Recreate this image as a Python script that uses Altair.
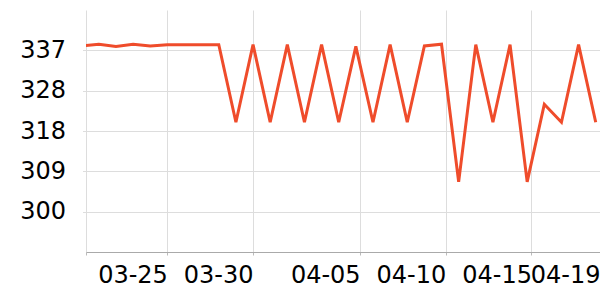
import altair as alt
import pandas as pd

dates = pd.date_range("2024-03-20", "2024-04-19", freq="D").strftime("%Y-%m-%dT00:00:00Z").tolist()
values = [337.8, 338.2, 337.7, 338.2, 337.8, 338.1, 338.1, 338.1, 338.1, 320.4,
          338.1, 320.4, 338.1, 320.4, 338.1, 320.4, 337.7, 320.4, 338.1, 320.4,
          337.8, 338.2, 306.8, 338.1, 320.4, 338.1, 306.8, 324.5, 320.4, 338.1,
          320.4]

x_ticks = ["2024-03-20T06:00:00Z", "2024-03-25T00:00:00Z", "2024-03-30T00:00:00Z",
           "2024-04-05T06:00:00Z", "2024-04-10T06:00:00Z", "2024-04-15T06:00:00Z",
           "2024-04-19T06:00:00Z"]
x_domain = ["2024-03-20T06:00:00Z", "2024-04-19T06:00:00Z"]
y_ticks = [300, 309.2, 318.4, 327.6, 336.8]
y_domain = [290.8, 346.0]

df = pd.DataFrame({"date": dates, "value": values})

def dt(s):
    ts = pd.Timestamp(s)
    return alt.DateTime(year=ts.year, month=ts.month, date=ts.day, hours=ts.hour,
                        minutes=ts.minute, utc=True)

chart = alt.Chart(df).mark_line(color="#ef4c2b", strokeWidth=3, clip=True).encode(
    x=alt.X("date:T",
            scale=alt.Scale(type="utc", domain=[dt(s) for s in x_domain], nice=False),
            axis=alt.Axis(values=[dt(s) for s in x_ticks], title=None,
                          labelExpr="datum.index == 0 ? '' : utcFormat(datum.value, '%m-%d')",
                          labelAlign="right", labelFont="DejaVu Sans", labelFontSize=24,
                          labelColor="#000", labelPadding=8, tickSize=3, tickColor="#bbb",
                          domainColor="#aaa", gridColor="#ddd", labelOverlap=False,
                          labelFlush=False, labelBound=False)),
    y=alt.Y("value:Q",
            scale=alt.Scale(domain=y_domain, nice=False, zero=False),
            axis=alt.Axis(values=y_ticks, title=None, format=".0f",
                          labelFont="DejaVu Sans", labelFontSize=24, labelColor="#000",
                          labelPadding=17, tickSize=3.5, tickColor="#ddd",
                          domain=False, gridColor="#ddd", labelOverlap=False)),
).properties(
    width=514, height=242,
    autosize=alt.AutoSizeParams(type="none"),
    padding={"left": 86, "top": 10, "right": 0, "bottom": 48},
).configure_view(stroke=None)

chart.save("out.html", embed_options={"renderer": "svg", "actions": False})
